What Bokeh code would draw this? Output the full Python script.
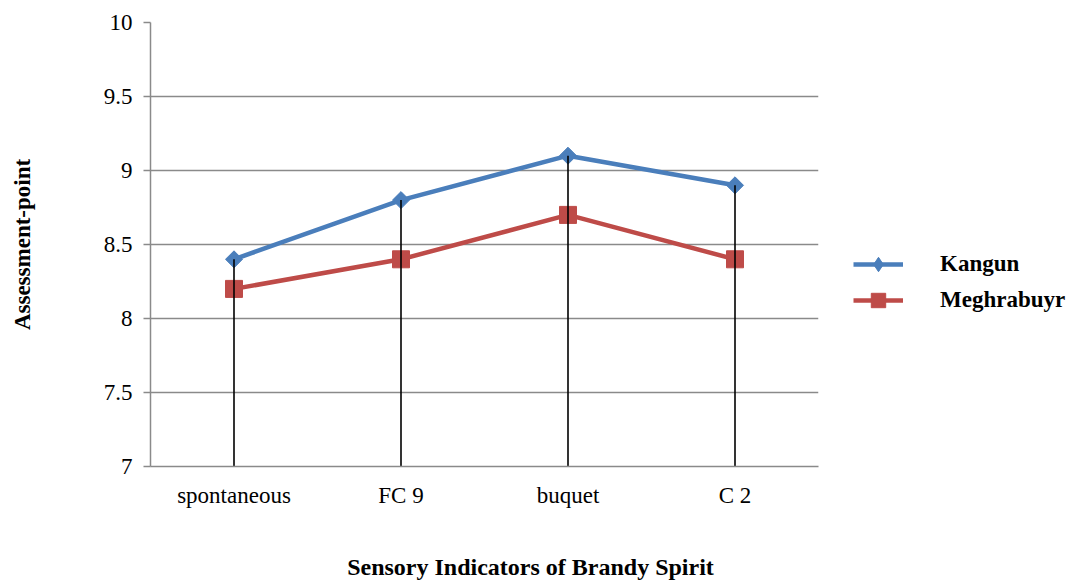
import math
from bokeh.plotting import figure
from bokeh.layouts import row, column
from bokeh.models import FixedTicker, Legend, LegendItem, Label
from bokeh.embed import file_html
from bokeh.resources import INLINE

categories = ["spontaneous", "FC 9", "buquet", "C 2"]
kangun = [8.4, 8.8, 9.1, 8.9]
meghrabuyr = [8.2, 8.4, 8.7, 8.4]
y_ticks = [7, 7.5, 8, 8.5, 9, 9.5, 10]
y_tick_labels = ["7", "7.5", "8", "8.5", "9", "9.5", "10"]
series_names = ["Kangun", "Meghrabuyr"]
x_title = "Sensory Indicators of Brandy Spirit"
y_title = "Assessment-point"

FONT = "Liberation Serif"
BLUE = "#4a7ebb"
RED = "#be4b48"
GREY = "#8a8a8a"

p = figure(x_range=categories, y_range=(7, 10), width=830, height=549,
           output_backend="svg", toolbar_location=None,
           min_border_left=150, min_border_right=12,
           min_border_top=22, min_border_bottom=83)
p.outline_line_color = None
p.background_fill_color = "white"

# axes
p.yaxis.ticker = FixedTicker(ticks=y_ticks)
p.yaxis.major_label_overrides = {t: l for t, l in zip(y_ticks, y_tick_labels)}
p.yaxis.axis_line_color = GREY
p.yaxis.axis_line_width = 1.5
p.yaxis.major_tick_line_color = GREY
p.yaxis.major_tick_line_width = 1.5
p.yaxis.major_tick_out = 7
p.yaxis.major_tick_in = 0
p.yaxis.minor_tick_line_color = None
p.yaxis.major_label_standoff = 11
p.yaxis.major_label_text_font = FONT
p.yaxis.major_label_text_font_size = "23px"
p.yaxis.major_label_text_color = "black"
p.yaxis.axis_label = y_title
p.yaxis.axis_label_text_font = FONT
p.yaxis.axis_label_text_font_size = "23px"
p.yaxis.axis_label_text_font_style = "bold"
p.yaxis.axis_label_text_color = "black"
p.yaxis.axis_label_standoff = 66

p.xaxis.axis_line_color = GREY
p.xaxis.axis_line_width = 1.5
p.xaxis.major_tick_line_color = None
p.xaxis.minor_tick_line_color = None
p.xaxis.major_label_standoff = 10
p.xaxis.major_label_text_font = FONT
p.xaxis.major_label_text_font_size = "23px"
p.xaxis.major_label_text_color = "black"

p.xgrid.grid_line_color = None
p.ygrid.ticker = FixedTicker(ticks=y_ticks)
p.ygrid.grid_line_color = GREY
p.ygrid.grid_line_width = 1.5

# series
p.line(categories, kangun, line_color=BLUE, line_width=4.5)
p.scatter(categories, kangun, marker="square", size=12, angle=math.pi / 4,
          fill_color=BLUE, line_color=BLUE)
p.line(categories, meghrabuyr, line_color=RED, line_width=4.5)
p.scatter(categories, meghrabuyr, marker="square", size=17,
          fill_color=RED, line_color=RED)

# drop lines
tops = [max(a, b) for a, b in zip(kangun, meghrabuyr)]
p.segment(x0=categories, y0=[7] * len(categories), x1=categories, y1=tops,
          line_color="black", line_width=1.6)

# legend panel (separate canvas to the right of the plot)
q = figure(x_range=(0, 1), y_range=(0, 1), width=241, height=549,
           output_backend="svg", toolbar_location=None,
           min_border=0)
q.axis.visible = False
q.grid.grid_line_color = None
q.outline_line_color = None
ql1 = q.line([-5, -4], [-5, -4], line_color=BLUE, line_width=4.5)
qs1 = q.scatter([-5], [-5], marker="diamond", size=18, fill_color=BLUE, line_color=BLUE)
ql2 = q.line([-5, -4], [-5, -4], line_color=RED, line_width=4.5)
qs2 = q.scatter([-5], [-5], marker="square", size=17, fill_color=RED, line_color=RED)

legend = Legend(items=[LegendItem(label=series_names[0], renderers=[ql1, qs1]),
                       LegendItem(label=series_names[1], renderers=[ql2, qs2])],
                location=(23, 148))
legend.border_line_color = None
legend.background_fill_alpha = 0
legend.padding = 0
legend.margin = 0
legend.spacing = 0
legend.glyph_width = 50
legend.glyph_height = 36
legend.label_height = 36
legend.label_standoff = 37
legend.label_text_font = FONT
legend.label_text_font_size = "23px"
legend.label_text_font_style = "bold"
legend.label_text_color = "black"
q.add_layout(legend, "center")

# x-axis title strip below the chart
r = figure(x_range=(0, 1071), y_range=(0, 32), width=1071, height=32,
           output_backend="svg", toolbar_location=None, min_border=0)
r.axis.visible = False
r.grid.grid_line_color = None
r.outline_line_color = None
r.add_layout(Label(x=530, y=15, text=x_title, text_font=FONT,
                   text_font_size="24px", text_font_style="bold",
                   text_color="black", text_align="center",
                   text_baseline="middle"))

open("out.html", "w").write(file_html(column(row(p, q), r), INLINE))
